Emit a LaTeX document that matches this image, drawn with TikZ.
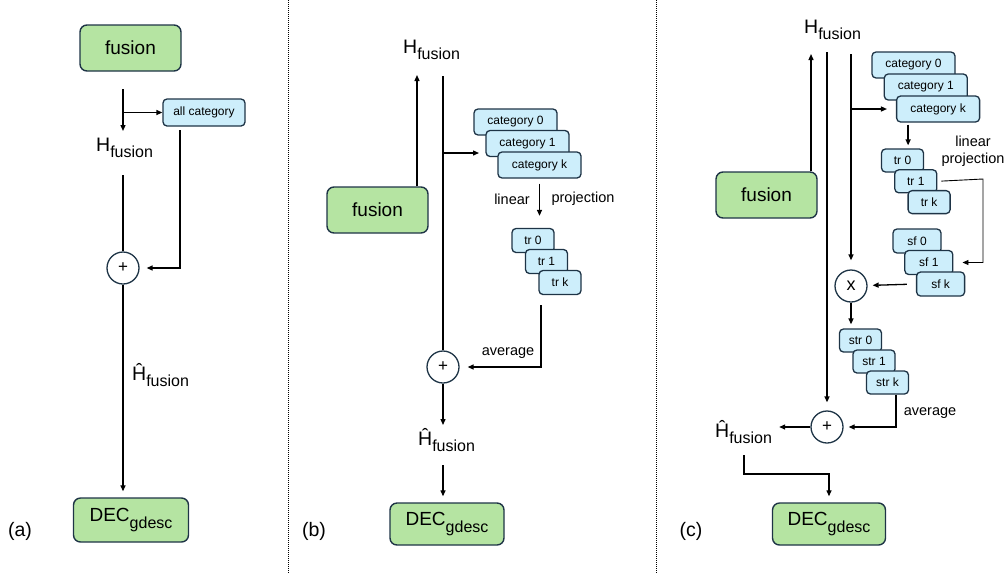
\documentclass[tikz,border=0pt]{standalone}
\usepackage{fontspec}
\setmainfont{Liberation Sans}
\usetikzlibrary{arrows.meta,calc}

\definecolor{boxgreen}{RGB}{181,228,162}
\definecolor{boxblue}{RGB}{205,238,251}
\definecolor{edgeblue}{RGB}{30,52,70}

\newcommand{\subl}[2]{#1\raisebox{-0.35em}{\fontsize{16}{17}\selectfont #2}}

\begin{document}
\begin{tikzpicture}[x=1pt,y=-1pt]

	\tikzstyle fusbox=[draw=edgeblue,fill=boxgreen,line width=1.4pt,rounded corners=7pt,minimum width=101pt,minimum height=46pt,inner sep=0pt,font=\fontsize{19}{21}\selectfont];
	\tikzstyle catbox=[draw=edgeblue,fill=boxblue,line width=1.3pt,rounded corners=4pt,minimum width=83pt,minimum height=26pt,inner sep=0pt,font=\fontsize{12}{13}\selectfont];
	\tikzstyle trbox=[catbox,minimum width=42pt,minimum height=24pt];
	\tikzstyle sfbox=[catbox,minimum width=48pt,minimum height=24pt];
	\tikzstyle opcirc=[circle,draw=edgeblue,fill=white,line width=1.3pt,minimum size=32pt,inner sep=0pt,font=\fontsize{17}{18}\selectfont];
	\tikzstyle bigtext=[inner sep=0pt,font=\fontsize{19.5}{21}\selectfont];
	\tikzstyle smalltext=[inner sep=0pt,font=\fontsize{14.5}{17}\selectfont];
	\tikzstyle link=[line width=1.3pt];
	\tikzstyle arr=[link,-{Triangle[length=6pt,width=5pt]}];
	\tikzstyle sep line=[line width=0.9pt,dash pattern=on 1pt off 1pt];

	\useasboundingbox (0,0) rectangle (1008,574);

	\draw[sep line] (288,0) -- (288,574);
	\draw[sep line] (656,0) -- (656,574);

	% (a)
	\node[fusbox] (fusa) at (130.5,48) {fusion};
	\node[bigtext,anchor=base west] (hfa) at (96,151) {\subl{H}{fusion}};
	\node[catbox,minimum width=82pt,minimum height=27pt] (alla) at (204,112.5) {all category};
	\node[opcirc] (suma) at (123,268) {+};
	\node[bigtext,anchor=base west] (hha) at (132,380) {\subl{Ĥ}{fusion}};
	\node[fusbox,minimum width=115pt,minimum height=44pt] (deca) at (131,520) {\subl{DEC}{gdesc}};
	\node[bigtext] (laba) at (20,531) {(a)};

	\coordinate (a0) at (123,89);
	\coordinate (a1) at (123,131);
	\coordinate (a2) at (123,175);
	\coordinate (a3) at (180,130);
	\draw[arr] (a0) -- (a1);
	\draw[arr] (a0 |- alla) -- (alla);
	\draw[link] (a2) -- (suma);
	\draw[arr,shorten >=7pt] (a3) |- (suma);
	\draw[arr,shorten >=6pt] (suma) -- (suma |- deca.north);

	% (b)
	\node[bigtext,anchor=base west] (hfb) at (403,53) {\subl{H}{fusion}};
	\node[fusbox] (fusb) at (377.5,210) {fusion};
	\foreach \i/\t in {0/0,1/1,2/k}
		\node[catbox] (cb\t) at ({515.5+12*\i},{122+21.5*\i}) {category \t};
	\foreach \i/\t in {0/0,1/1,2/k}
		\node[trbox] (tb\t) at ({533+13.5*\i},{240.5+21*\i}) {tr \t};
	\node[smalltext] (linb) at (512,199) {linear};
	\node[smalltext] (prob) at (583,199) {projection};
	\node[opcirc] (sumb) at (443,367) {+};
	\node[smalltext] (avgb) at (508,353) {average};
	\node[bigtext,anchor=base west] (hhb) at (418,445) {\subl{Ĥ}{fusion}};
	\node[fusbox,minimum width=114pt,minimum height=42pt] (decb) at (447,524) {\subl{DEC}{gdesc}};
	\node[bigtext] (labb) at (314,531) {(b)};

	\coordinate (b0) at (443,76);
	\coordinate (b1) at (479,153);
	\coordinate (b2) at (417,75);
	\coordinate (b3) at (541,305);
	\coordinate (b4) at (443,425);
	\coordinate (b5) at (443,465);
	\draw[arr] (fusb.north -| b2) -- (b2);
	\draw[link] (b0) -- (sumb);
	\draw[arr] (b0 |- b1) -- (b1);
	\draw[arr,shorten <=5pt,shorten >=12pt] (cbk.south) -- (cbk.south |- tb0.north);
	\draw[arr,shorten >=8pt] (b3) |- (sumb);
	\draw[arr] (sumb) -- (b4);
	\draw[arr,shorten >=6pt] (b5) -- (b5 |- decb.north);

	% (c)
	\node[bigtext,anchor=base west] (hfc) at (804,33) {\subl{H}{fusion}};
	\node[fusbox] (fusc) at (766.5,195) {fusion};
	\foreach \i/\t in {0/0,1/1,2/k}
		\node[catbox] (cc\t) at ({913.5+12.3*\i},{65+22*\i}) {category \t};
	\foreach \i/\t in {0/0,1/1,2/k}
		\node[trbox,minimum height=23pt] (tc\t) at ({902.5+13.3*\i},{160.5+20.8*\i}) {tr \t};
	\foreach \i/\t in {0/0,1/1,2/k}
		\node[sfbox] (sf\t) at ({917+11.8*\i},{241+21.5*\i}) {sf \t};
	\foreach \i/\t in {0/0,1/1,2/k}
		\node[trbox,minimum height=23pt] (sr\t) at ({860.5+13.5*\i},{340.5+21*\i}) {str \t};
	\node[smalltext,align=center] (linc) at (973,151) {linear\\projection};
	\node[opcirc,font=\fontsize{18}{19}\selectfont] (mulc) at (851,286) {x};
	\node[opcirc] (sumc) at (827,427) {+};
	\node[smalltext] (avgc) at (930,413) {average};
	\node[bigtext,anchor=base west] (hhc) at (715,437) {\subl{Ĥ}{fusion}};
	\node[fusbox,minimum width=113pt,minimum height=42pt] (decc) at (829,524) {\subl{DEC}{gdesc}};
	\node[bigtext] (labc) at (691,531) {(c)};

	\coordinate (c0) at (827,52);
	\coordinate (c1) at (851,54);
	\coordinate (c2) at (811,54);
	\coordinate (c3) at (983,179);
	\coordinate (c4) at (744,455);
	\coordinate (c5) at (744,474);
	\draw[arr] (fusc.north -| c2) -- (c2);
	\draw[arr,shorten >=8pt] (c0) -- (sumc);
	\draw[arr,shorten >=9pt] (c1) -- (mulc);
	\draw[arr,shorten >=9pt] (c1 |- cck.west) -- (cck.west);
	\draw[arr,shorten <=2pt,shorten >=3pt] ([xshift=-30pt]cck.south) -- ([xshift=-30pt]cck.south |- tc0.north);
	\draw[arr,line width=0.9pt,shorten <=4pt,shorten >=9pt] (tc1.east) -- (c3) |- (sf1.east);
	\draw[arr,shorten <=9pt,shorten >=5pt] (sfk.west) -- (mulc);
	\draw[arr,shorten >=4pt] (mulc) -- (mulc |- sr0.north);
	\draw[arr,shorten >=5pt] ([xshift=8.5pt]srk.south) |- (sumc);
	\draw[arr,shorten >=7pt] (sumc) -- (sumc -| hhc.east);
	\draw[arr,shorten >=6pt] (c4) -- (c5) -| (decc.north);

\end{tikzpicture}
\end{document}
